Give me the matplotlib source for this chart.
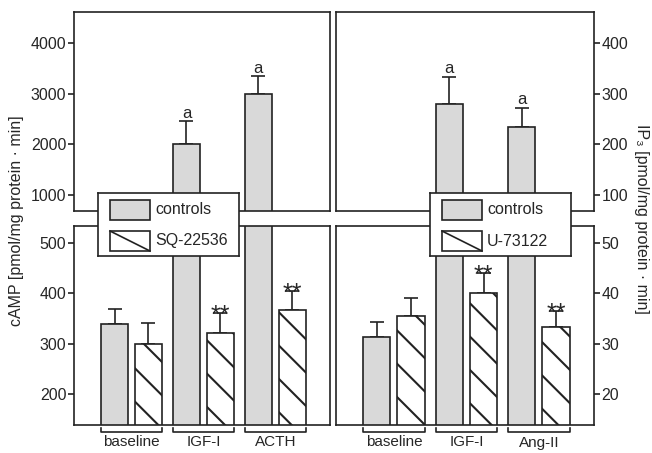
import matplotlib
matplotlib.use('Agg')
import matplotlib.pyplot as plt
import numpy as np
from matplotlib.patches import Rectangle
from matplotlib.lines import Line2D
from matplotlib.transforms import blended_transform_factory

# ---------------- data ----------------
groups_left = ['baseline', 'IGF-I', 'ACTH']
camp_controls = [338, 2000, 3005]
camp_controls_err = [31, 457, 338]
camp_sq = [300, 322, 366]
camp_sq_err = [40, 38, 38]
camp_sig_controls = ['', 'a', 'a']
camp_sig_treated = ['', '**', '**']

groups_right = ['baseline', 'IGF-I', 'Ang-II']
ip3_controls = [31.4, 280, 234]
ip3_controls_err = [2.8, 54, 38]
ip3_u = [35.4, 40.0, 33.4]
ip3_u_err = [3.6, 4.0, 3.0]
ip3_sig_controls = ['', 'a', 'a']
ip3_sig_treated = ['', '**', '**']

left_upper_ticks = [1000, 2000, 3000, 4000]
left_lower_ticks = [200, 300, 400, 500]
right_upper_ticks = [100, 200, 300, 400]
right_lower_ticks = [20, 30, 40, 50]

legend_labels_left = ['controls', 'SQ-22536']
legend_labels_right = ['controls', 'U-73122']

# ---------------- style ----------------
plt.rcParams['font.family'] = ['Liberation Sans', 'DejaVu Sans']
plt.rcParams['hatch.linewidth'] = 1.5
plt.rcParams['hatch.color'] = '#222222'
EC = '#222222'
GRAY = '#d9d9d9'
TXT = '#262626'
LW = 1.2
FS = 11.5

W, H = 652, 453
fig = plt.figure(figsize=(W / 100, H / 100), dpi=100)


def px_axes(x0, y0, x1, y1, **kw):
    return fig.add_axes([x0 / W, 1 - y1 / H, (x1 - x0) / W, (y1 - y0) / H], **kw)


BAR_W = 0.375
OFF = 0.236
XLIM = (-0.80, 2.76)
LO_TOP, LO_BOT = 226, 425


def style_axes(ax, ticks, ylim, side):
    ax.set_xlim(*XLIM)
    ax.set_ylim(*ylim)
    ax.set_yticks(ticks)
    ax.set_xticks([])
    for s in ax.spines.values():
        s.set_linewidth(LW)
        s.set_color(EC)
    ax.tick_params(axis='y', direction='out', length=4, width=LW, color=EC,
                   labelsize=FS, labelcolor=TXT, pad=1.5,
                   left=(side == 'left'), labelleft=(side == 'left'),
                   right=(side == 'right'), labelright=(side == 'right'))
    ax.patch.set_alpha(0)


def draw_bars(ax, ctrl, ctrl_err, trt, trt_err):
    x = np.arange(len(ctrl))
    ax.bar(x - OFF, ctrl, width=BAR_W, color=GRAY, edgecolor=EC, linewidth=LW, zorder=2)
    ax.bar(x + OFF, trt, width=BAR_W, color='white', edgecolor=EC, linewidth=LW,
           hatch='\\', zorder=2)
    ax.errorbar(x - OFF, ctrl, yerr=[np.zeros(len(ctrl)), ctrl_err], fmt='none',
                ecolor=EC, elinewidth=LW, capsize=5, capthick=LW, zorder=1)
    ax.errorbar(x + OFF, trt, yerr=[np.zeros(len(trt)), trt_err], fmt='none',
                ecolor=EC, elinewidth=LW, capsize=5, capthick=LW, zorder=1)
    return x


def panel(xl, xr, ctrl, ctrl_err, trt, trt_err, up_ticks, lo_ticks, up_lim, lo_lim,
          side, groups, sig_c, sig_t, leg_x, leg_labels):
    ax_up = px_axes(xl, 12, xr, 211)
    ax_lo = px_axes(xl, LO_TOP, xr, LO_BOT)
    for ax in (ax_up, ax_lo):
        draw_bars(ax, ctrl, ctrl_err, trt, trt_err)
    style_axes(ax_up, up_ticks, up_lim, side)
    style_axes(ax_lo, lo_ticks, lo_lim, side)
    x = np.arange(len(ctrl))
    for i, s in enumerate(sig_c):
        if s:
            ax_up.annotate(s, xy=(x[i] - OFF, ctrl[i] + ctrl_err[i]), xytext=(0, 0.5),
                           textcoords='offset points', ha='center', va='bottom',
                           fontsize=12, color=TXT)
    for i, s in enumerate(sig_t):
        if s:
            ax_lo.annotate(s, xy=(x[i] + OFF, trt[i] + trt_err[i]), xytext=(0, -7.0),
                           textcoords='offset points', ha='center', va='baseline',
                           fontsize=18, color=TXT)
    tr = blended_transform_factory(ax_lo.transData, ax_lo.transAxes)
    hgt = LO_BOT - LO_TOP
    yb = -(432 - LO_BOT) / hgt
    yt = -(428 - LO_BOT) / hgt
    ylab = -(435.5 - LO_BOT) / hgt
    for i, g in enumerate(groups):
        x0 = x[i] - OFF - BAR_W / 2
        x1 = x[i] + OFF + BAR_W / 2
        ax_lo.add_line(Line2D([x0, x0, x1, x1], [yt, yb, yb, yt],
                              transform=tr, color=EC, lw=LW, clip_on=False))
        ax_lo.text(x[i], ylab, g, transform=tr, ha='center', va='top',
                   fontsize=11, color=TXT, clip_on=False)
    # legend box
    lg = px_axes(leg_x, 193, leg_x + 141, 256, zorder=10)
    lg.set_xlim(0, 141)
    lg.set_ylim(63, 0)
    lg.set_xticks([])
    lg.set_yticks([])
    lg.set_facecolor('white')
    for s in lg.spines.values():
        s.set_linewidth(LW)
        s.set_color(EC)
    lg.add_patch(Rectangle((12, 7), 40, 20, facecolor=GRAY, edgecolor=EC, lw=LW))
    lg.add_patch(Rectangle((12, 38), 40, 20, facecolor='white', edgecolor=EC, lw=LW))
    lg.add_line(Line2D([12, 52], [38, 58], color=EC, lw=LW))
    lg.text(57, 17, leg_labels[0], ha='left', va='center', fontsize=FS, color=TXT)
    lg.text(57, 48, leg_labels[1], ha='left', va='center', fontsize=FS, color=TXT)


panel(74, 330, camp_controls, camp_controls_err, camp_sq, camp_sq_err,
      left_upper_ticks, left_lower_ticks, (680, 4620), (138, 534), 'left',
      groups_left, camp_sig_controls, camp_sig_treated, 98, legend_labels_left)
panel(336, 594, ip3_controls, ip3_controls_err, ip3_u, ip3_u_err,
      right_upper_ticks, right_lower_ticks, (68.0, 462.0), (13.8, 53.4), 'right',
      groups_right, ip3_sig_controls, ip3_sig_treated, 430, legend_labels_right)

fig.text(17 / W, 1 - 221 / H, 'cAMP [pmol/mg protein · min]', rotation=90,
         ha='center', va='center', fontsize=FS, color=TXT)
fig.text(641 / W, 1 - 219 / H, 'IP₃ [pmol/mg protein · min]', rotation=270,
         ha='center', va='center', fontsize=FS, color=TXT)

fig.savefig('out.png', dpi=100)
